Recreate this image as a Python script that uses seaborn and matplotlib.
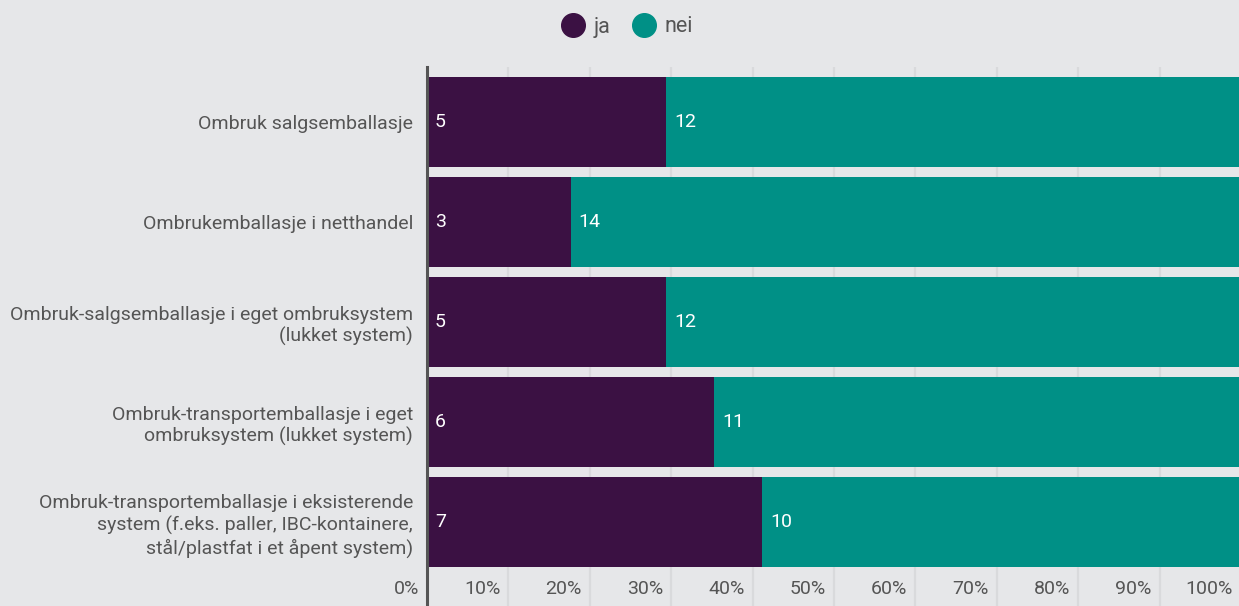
import matplotlib
matplotlib.use("Agg")
import matplotlib.pyplot as plt
import matplotlib.transforms as mtransforms
from matplotlib.lines import Line2D
import seaborn as sns
import pandas as pd

categories = [
    "Ombruk salgsemballasje",
    "Ombrukemballasje i netthandel",
    "Ombruk-salgsemballasje i eget ombruksystem\n(lukket system)",
    "Ombruk-transportemballasje i eget\nombruksystem (lukket system)",
    "Ombruk-transportemballasje i eksisterende\nsystem (f.eks. paller, IBC-kontainere,\nstål/plastfat i et åpent system)",
]
ja = [5, 3, 5, 6, 7]
nei = [12, 14, 12, 11, 10]
series_names = ["ja", "nei"]
x_ticks = [0, 10, 20, 30, 40, 50, 60, 70, 80, 90, 100]
x_ticklabels = ["0%", "10%", "20%", "30%", "40%", "50%", "60%", "70%", "80%", "90%", "100%"]

BG = "#e6e7e9"
C_JA = "#3b1143"
C_NEI = "#009086"
TXT = "#555555"
GRID = "#d9dadc"
FS = 14

sns.set_theme(style="white")
plt.rcParams["font.family"] = ["Roboto", "DejaVu Sans"]

df = pd.DataFrame({"kategori": categories, "ja": ja, "nei": nei})
df["total"] = df["ja"] + df["nei"]
df["ja_pct"] = df["ja"] / df["total"] * 100
df["all_pct"] = (df["ja"] + df["nei"]) / df["total"] * 100

W, H = 1239, 606
fig = plt.figure(figsize=(W / 100, H / 100), dpi=100, facecolor=BG)
ax = fig.add_axes([427 / W, 0, 814 / W, 1 - 67 / H])
ax.set_facecolor(BG)

sns.barplot(data=df, x="all_pct", y="kategori", color=C_NEI, width=0.9,
            saturation=1, linewidth=0, ax=ax, zorder=2)
sns.barplot(data=df, x="ja_pct", y="kategori", color=C_JA, width=0.9,
            saturation=1, linewidth=0, ax=ax, zorder=3)

ax.set_xlim(0, 100)
ax.set_ylim(4.84, -0.55)
ax.set_xlabel("")
ax.set_ylabel("")

# value labels inside each segment
pad = mtransforms.ScaledTranslation(8 / 100, 0, fig.dpi_scale_trans)
for i, (j, n, jp) in enumerate(zip(df["ja"], df["nei"], df["ja_pct"])):
    ax.text(0, i, str(j), color="white", fontsize=FS, va="center", ha="left",
            transform=ax.transData + pad, zorder=5)
    ax.text(jp, i, str(n), color="white", fontsize=FS, va="center", ha="left",
            transform=ax.transData + pad, zorder=5)

# x axis: gridlines and percent labels just inside the bottom edge
ax.set_xticks(x_ticks)
ax.set_xticklabels(x_ticklabels)
ax.tick_params(axis="x", length=0, pad=-19, labelsize=FS, labelcolor=TXT)
shift = mtransforms.ScaledTranslation(-8 / 100, 0, fig.dpi_scale_trans)
for lab in ax.get_xticklabels():
    lab.set_horizontalalignment("right")
    lab.set_transform(lab.get_transform() + shift)
ax.grid(axis="x", color=GRID, linewidth=1.6, zorder=0)
ax.set_axisbelow(True)

ax.tick_params(axis="y", length=0, pad=10, labelsize=FS, labelcolor=TXT)
for lab in ax.get_yticklabels():
    lab.set_multialignment("right")
    lab.set_linespacing(1.25)

for side in ["top", "right", "bottom"]:
    ax.spines[side].set_visible(False)
ax.spines["left"].set_color("#555555")
ax.spines["left"].set_linewidth(2.2)
ax.spines["left"].set_zorder(6)

handles = [
    Line2D([], [], marker="o", linestyle="", markersize=17,
           markerfacecolor=c, markeredgecolor=c)
    for c in (C_JA, C_NEI)
]
fig.legend(handles, series_names, loc="center", bbox_to_anchor=(626 / W, 1 - 27 / H),
           ncol=2, frameon=False, fontsize=15.5, labelcolor=TXT,
           handletextpad=0.3, columnspacing=0.9, handlelength=1.3)

fig.savefig("out.png", dpi=100, facecolor=BG)
